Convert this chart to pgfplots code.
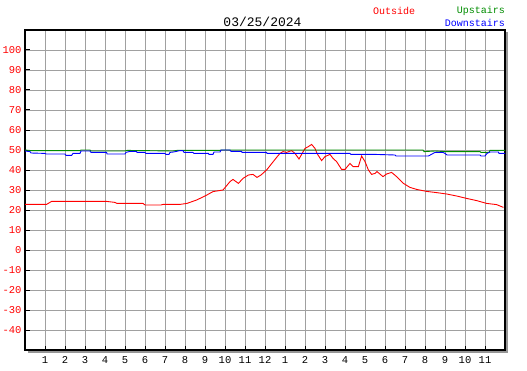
\documentclass[border=0pt]{standalone}
\usepackage{pgfplots}
\pgfplotsset{compat=1.18}
\usepackage{fontspec}
\setmainfont{Liberation Mono}
\definecolor{gridgray}{RGB}{160,160,160}
\definecolor{upgreen}{RGB}{0,140,0}
\definecolor{shadowgray}{RGB}{150,150,150}
\begin{document}
\fontsize{10}{12}\selectfont
\begin{tikzpicture}[x=1pt,y=1pt]
\useasboundingbox (0,0) rectangle (527,370);
\fill[shadowgray] (27.5,17.5) rectangle (507.5,337.5);
\begin{axis}[
  at={(25pt,20pt)}, anchor=south west,
  scale only axis, width=480pt, height=320pt,
  xmin=0, xmax=24, ymin=-50, ymax=110,
  axis background/.style={fill=white},
  xtick={1,...,23},
  xticklabels={1,2,3,4,5,6,7,8,9,10,11,12,1,2,3,4,5,6,7,8,9,10,11},
  ytick={-40,-30,...,100},
  grid=major,
  major grid style={gridgray, line width=0.9pt},
  axis line style={black, line width=1.3pt},
  tick align=inside,
  xtick pos=bottom, ytick pos=left,
  major tick length=4.5pt,
  tick style={black, line width=1pt},
  /pgf/number format/assume math mode=true,
  ticklabel style={font=\fontsize{10.5}{12}\selectfont},
  yticklabel style={red},
  xticklabel style={black, yshift=-3pt},
  clip=true,
]
\addplot[red, line width=0.9pt] coordinates {
(0,22.8) (1.08,22.8) (1.33,24.3) (4.08,24.3) (4.5,23.8) (4.6,23.3) (5.9,23.3) (6.0,22.5) (6.8,22.5) (6.9,22.8) (7.75,22.8) (8.1,23.3) (8.58,25) (9.0,27) (9.4,29.2) (9.9,30) (10.25,34.2) (10.4,35.3) (10.67,33.3) (10.9,35.8) (11.17,37.5) (11.4,37.8) (11.6,36.3) (11.8,37.5) (12.08,40) (12.58,46.3) (12.75,48.3) (12.9,49.2) (13.08,48.8) (13.33,49.7) (13.5,48.3) (13.7,45.5) (14.0,50.8) (14.17,51.7) (14.33,52.8) (14.5,50.8) (14.6,48.3) (14.83,44.7) (15.0,46.7) (15.25,47.8) (15.4,45.8) (15.58,44.2) (15.83,40.3) (16.0,40.3) (16.25,43.3) (16.4,41.7) (16.67,41.7) (16.83,47) (17.0,44.2) (17.17,40) (17.33,37.8) (17.5,38.3) (17.6,39.2) (17.9,36.7) (18.08,38) (18.33,38.8) (18.58,36.7) (18.92,33.3) (19.25,31.3) (19.58,30.3) (20.08,29.3) (20.58,28.7) (21.08,28) (21.58,27) (22.08,25.8) (22.58,24.7) (23.08,23.3) (23.58,22.7) (23.92,21.3)
};
\addplot[upgreen, line width=0.9pt] coordinates {
(0,50) (0.3,49.7) (2.75,49.7) (2.8,50) (3.25,50) (3.3,49.5) (5.0,49.5) (5.1,49.8) (7.4,49.5) (7.6,49.8) (9.75,49.8) (9.8,50) (19.9,50) (19.95,49.2) (20.5,49.5) (21.0,49.2) (22.75,49.2) (22.8,48.8) (23.2,48.8) (23.25,49.8) (24,49.8)
};
\addplot[blue, line width=0.9pt] coordinates {
(0,49.5) (0.25,49.2) (0.3,48.5) (1.0,48.3) (1.05,48) (2.0,48) (2.05,47.3) (2.33,47.3) (2.4,48.3) (2.75,48.3) (2.8,49.5) (3.25,49.5) (3.3,48.8) (4.08,48.8) (4.1,48) (5.0,48) (5.05,48.8) (5.25,49.3) (5.58,49.3) (5.6,48.8) (6.0,48.8) (6.05,48.3) (7.0,48.3) (7.05,47.8) (7.2,47.8) (7.25,48.8) (7.42,49.0) (7.75,49.7) (7.9,49.7) (7.95,48.8) (8.4,48.8) (8.45,48.3) (9.17,48.3) (9.2,47.8) (9.4,47.8) (9.45,49) (9.75,49) (9.8,50) (10.25,50) (10.3,49.3) (10.83,49.3) (10.85,48.8) (12.08,48.8) (12.1,48.3) (16.25,48.3) (16.3,47.8) (17.5,47.8) (18.5,47.5) (18.55,47) (20.17,47) (20.5,48.8) (20.9,48.8) (21.0,48.3) (21.1,47.5) (22.75,47.5) (22.8,47) (23.0,47) (23.1,48.3) (23.25,49) (23.67,49) (23.7,48.3) (24,48.3)
};
\end{axis}
\node[black, font=\fontsize{13}{15}\selectfont] at (262.5,348.5) {03/25/2024};
\node[red, anchor=west, inner sep=0pt] at (373,359) {Outside};
\node[upgreen, anchor=east, inner sep=0pt] at (505,359) {Upstairs};
\node[blue, anchor=east, inner sep=0pt] at (505,347) {Downstairs};
\end{tikzpicture}
\end{document}
